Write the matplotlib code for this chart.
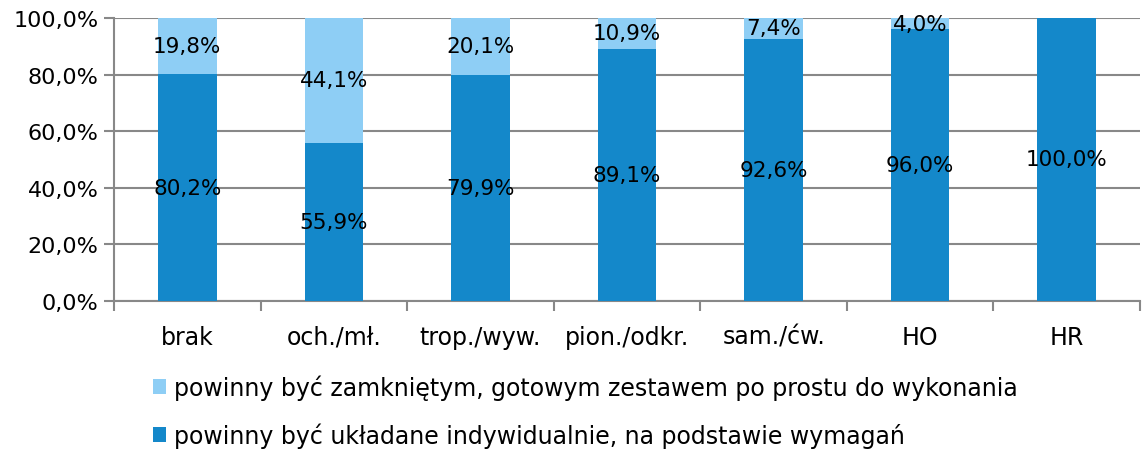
import numpy as np
import matplotlib
matplotlib.use('Agg')
import matplotlib.pyplot as plt
from matplotlib.ticker import FuncFormatter

categories = ['brak', 'och./mł.', 'trop./wyw.', 'pion./odkr.', 'sam./ćw.', 'HO', 'HR']
individual = [80.2, 55.9, 79.9, 89.1, 92.6, 96.0, 100.0]
closed_set = [19.8, 44.1, 20.1, 10.9, 7.4, 4.0, 0.0]
legend_labels = ['powinny być zamkniętym, gotowym zestawem po prostu do wykonania',
                 'powinny być układane indywidualnie, na podstawie wymagań']

dark = '#1488CA'
light = '#8ECEF5'
grid_c = '#888888'
fs = 15.5

plt.rcParams['font.family'] = ['DejaVu Sans']

fig = plt.figure(figsize=(11.44, 4.52), dpi=100)
ax = fig.add_axes([114 / 1144, 1 - 302 / 452, 1026 / 1144, 283 / 452])

x = np.arange(len(categories))
b1 = ax.bar(x, individual, width=0.4, color=dark, zorder=3, label=legend_labels[1])
b2 = ax.bar(x, closed_set, width=0.4, bottom=individual, color=light, zorder=3,
            label=legend_labels[0])

def fmt(v):
    return f'{v:.1f}'.replace('.', ',') + '%'

for i in range(len(categories)):
    ax.text(x[i], individual[i] / 2, fmt(individual[i]), ha='center', va='center',
            fontsize=fs, zorder=4)
    if closed_set[i] > 0:
        ax.text(x[i], individual[i] + closed_set[i] / 2, fmt(closed_set[i]),
                ha='center', va='center', fontsize=fs, zorder=4)

ax.set_xlim(-0.5, len(categories) - 0.5)
ax.set_ylim(0, 100)
ax.set_yticks(np.arange(0, 101, 20))
ax.yaxis.set_major_formatter(FuncFormatter(lambda v, p: fmt(v)))
ax.yaxis.grid(True, color=grid_c, linewidth=1.5, zorder=0)
ax.set_xticks(x)
ax.set_xticklabels(categories, fontsize=17)
ax.set_xticks(np.arange(-0.5, len(categories)), minor=True)
ax.tick_params(axis='x', which='major', length=0, pad=17)
ax.tick_params(axis='x', which='minor', length=7, width=1.5, color=grid_c)
ax.tick_params(axis='y', length=7, width=1.5, color=grid_c, labelsize=16, pad=4)
for s in ['top', 'right']:
    ax.spines[s].set_visible(False)
for s in ['left', 'bottom']:
    ax.spines[s].set_color(grid_c)
    ax.spines[s].set_linewidth(1.5)

fig.legend(handles=[b2, b1], labels=legend_labels, loc='upper left',
           bbox_to_anchor=(144 / 1144, 1 - 366 / 452), frameon=False, fontsize=17,
           handlelength=0.55, handleheight=0.55, handletextpad=0.3, labelspacing=0.95,
           borderaxespad=0)

fig.savefig('out.png', dpi=100)
